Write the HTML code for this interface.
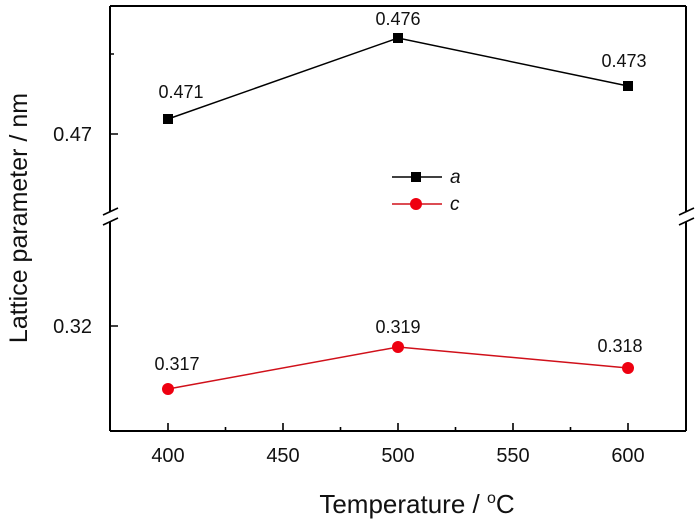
<!DOCTYPE html>
<html><head><meta charset="utf-8"><style>
html,body{margin:0;padding:0;background:#fff;}
svg{display:block;font-family:"Liberation Sans",Arial,sans-serif;}
</style></head><body>
<svg width="700" height="526" viewBox="0 0 700 526" xmlns="http://www.w3.org/2000/svg">
<g stroke="#000" stroke-width="2" fill="none">
<path d="M110,6 H686"/>
<path d="M110,431 H686"/>
<path d="M110,6 V212 M110,222 V431"/>
<path d="M686,6 V212 M686,222 V431"/>
</g>
<g stroke="#000" stroke-width="1.6">
<path d="M103,215 L118,208 M103,225 L118,218"/>
<path d="M679,215 L694,208 M679,225 L694,218"/>
<path d="M110,134 H118 M110,54 H114 M110,326 H118"/>
<path d="M168,431 V423 M283,431 V423 M398,431 V423 M513,431 V423 M628,431 V423"/>
<path d="M225.5,431 V427 M340.5,431 V427 M455.5,431 V427 M570.5,431 V427"/>
</g>
<g font-size="20" fill="#111" text-anchor="middle">
<text x="168" y="462">400</text><text x="283" y="462">450</text><text x="398" y="462">500</text><text x="513" y="462">550</text><text x="628" y="462">600</text>
</g>
<g font-size="20" fill="#111" text-anchor="end">
<text x="92" y="141">0.47</text><text x="92" y="333">0.32</text>
</g>
<text x="417" y="513" font-size="26" text-anchor="middle" fill="#111">Temperature / <tspan dy="-10" font-size="16">o</tspan><tspan dy="10">C</tspan></text>
<text transform="translate(27,218) rotate(-90)" font-size="25" text-anchor="middle" fill="#111">Lattice parameter / nm</text>
<polyline points="168,119 398,38 628,86" fill="none" stroke="#000" stroke-width="1.5"/>
<g fill="#000"><rect x="163" y="114" width="10" height="10"/><rect x="393" y="33" width="10" height="10"/><rect x="623" y="81" width="10" height="10"/></g>
<polyline points="168,389 398,347 628,368" fill="none" stroke="#d0101a" stroke-width="1.5"/>
<g fill="#ee0010"><circle cx="168" cy="389" r="6"/><circle cx="398" cy="347" r="6"/><circle cx="628" cy="368" r="6"/></g>
<g font-size="18" fill="#111" text-anchor="middle">
<text x="181" y="98">0.471</text><text x="398" y="25">0.476</text><text x="624" y="67">0.473</text>
<text x="177" y="370">0.317</text><text x="398" y="333">0.319</text><text x="620" y="352">0.318</text>
</g>
<path d="M392,177 H442" stroke="#000" stroke-width="1.5"/><rect x="411" y="172" width="10" height="10" fill="#000"/>
<path d="M392,204 H442" stroke="#d0101a" stroke-width="1.5"/><circle cx="416" cy="204" r="6" fill="#ee0010"/>
<text x="450" y="183" font-size="19" font-style="italic" fill="#111">a</text>
<text x="450" y="210" font-size="19" font-style="italic" fill="#111">c</text>
</svg>
</body></html>
